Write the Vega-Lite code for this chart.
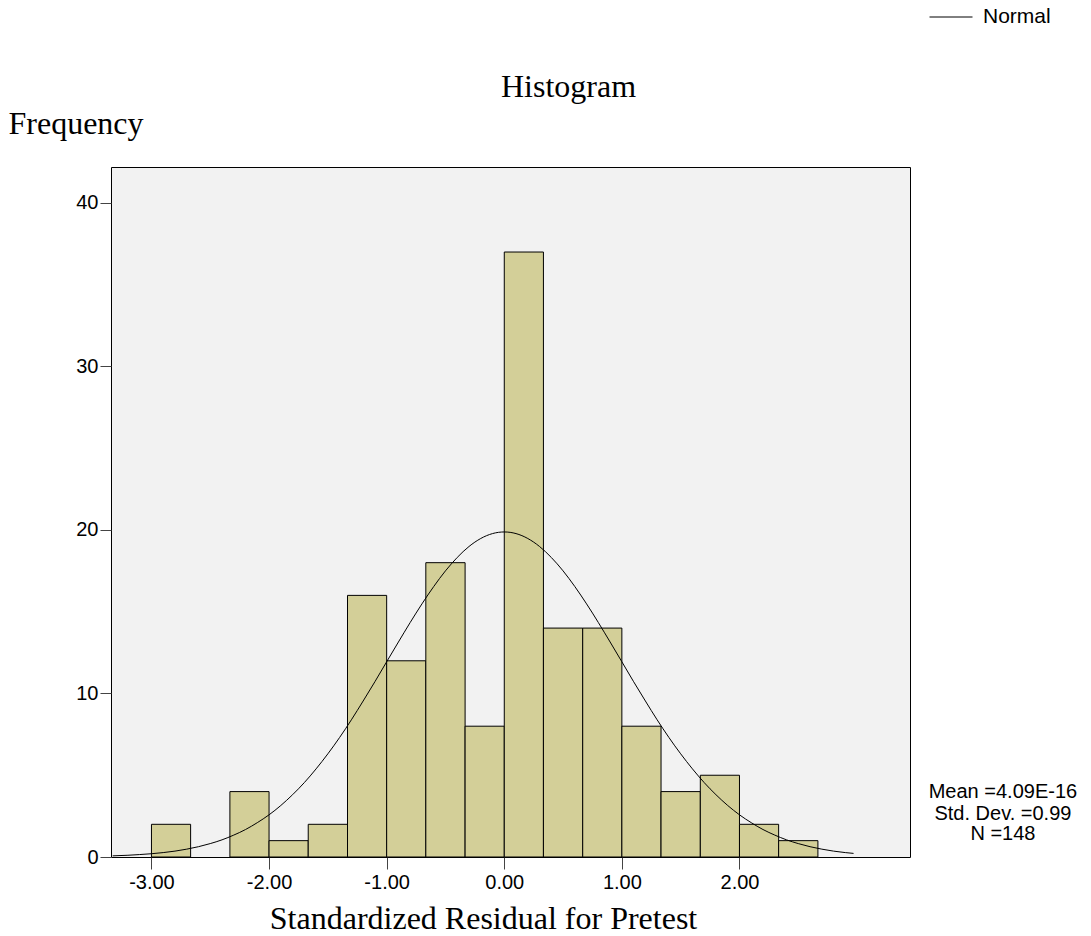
{
  "$schema": "https://vega.github.io/schema/vega-lite/v6.json",
  "autosize": "none",
  "width": 799,
  "height": 690,
  "padding": {"left": 111, "top": 167, "right": 181, "bottom": 79},
  "background": "white",
  "config": {
    "view": {"fill": "#F2F2F2", "stroke": "#000000", "strokeWidth": 1},
    "axis": {"labelFont": "Liberation Sans", "labelFontSize": 20, "labelColor": "#000000", "tickColor": "#444444", "domain": false, "grid": false, "titleFont": "Liberation Serif", "titleFontSize": 32, "titleFontWeight": "normal", "titleColor": "#000000"}
  },
  "title": {"text": "Histogram", "font": "Liberation Serif", "fontSize": 32, "fontWeight": "normal", "color": "#000000", "anchor": "middle", "dx": 58, "offset": 0, "baseline": "alphabetic", "dy": 134},
  "datasets": {
    "bins": [
      {"start": -3.0, "end": -2.667, "count": 2},
      {"start": -2.333, "end": -2.0, "count": 4},
      {"start": -2.0, "end": -1.667, "count": 1},
      {"start": -1.667, "end": -1.333, "count": 2},
      {"start": -1.333, "end": -1.0, "count": 16},
      {"start": -1.0, "end": -0.667, "count": 12},
      {"start": -0.667, "end": -0.333, "count": 18},
      {"start": -0.333, "end": 0.0, "count": 8},
      {"start": 0.0, "end": 0.333, "count": 37},
      {"start": 0.333, "end": 0.667, "count": 14},
      {"start": 0.667, "end": 1.0, "count": 14},
      {"start": 1.0, "end": 1.333, "count": 8},
      {"start": 1.333, "end": 1.667, "count": 4},
      {"start": 1.667, "end": 2.0, "count": 5},
      {"start": 2.0, "end": 2.333, "count": 2},
      {"start": 2.333, "end": 2.667, "count": 1}
    ],
    "curve": [
      {"x": -3.33, "y": 0.07}, {"x": -3.2, "y": 0.107}, {"x": -3.1, "y": 0.15}, {"x": -3.0, "y": 0.2},
      {"x": -2.9, "y": 0.27}, {"x": -2.8, "y": 0.36}, {"x": -2.7, "y": 0.48}, {"x": -2.6, "y": 0.63},
      {"x": -2.5, "y": 0.82}, {"x": -2.4, "y": 1.05}, {"x": -2.3, "y": 1.34}, {"x": -2.2, "y": 1.68},
      {"x": -2.1, "y": 2.1}, {"x": -2.0, "y": 2.58}, {"x": -1.9, "y": 3.15}, {"x": -1.8, "y": 3.81},
      {"x": -1.7, "y": 4.55}, {"x": -1.6, "y": 5.39}, {"x": -1.5, "y": 6.31}, {"x": -1.4, "y": 7.31},
      {"x": -1.3, "y": 8.39}, {"x": -1.2, "y": 9.54}, {"x": -1.1, "y": 10.72}, {"x": -1.0, "y": 11.94},
      {"x": -0.9, "y": 13.15}, {"x": -0.8, "y": 14.34}, {"x": -0.7, "y": 15.48}, {"x": -0.6, "y": 16.54},
      {"x": -0.5, "y": 17.5}, {"x": -0.4, "y": 18.32}, {"x": -0.3, "y": 18.99}, {"x": -0.2, "y": 19.48},
      {"x": -0.1, "y": 19.78}, {"x": 0.0, "y": 19.88}, {"x": 0.1, "y": 19.78}, {"x": 0.2, "y": 19.48},
      {"x": 0.3, "y": 18.99}, {"x": 0.4, "y": 18.32}, {"x": 0.5, "y": 17.5}, {"x": 0.6, "y": 16.54},
      {"x": 0.7, "y": 15.48}, {"x": 0.8, "y": 14.34}, {"x": 0.9, "y": 13.15}, {"x": 1.0, "y": 11.94},
      {"x": 1.1, "y": 10.72}, {"x": 1.2, "y": 9.54}, {"x": 1.3, "y": 8.39}, {"x": 1.4, "y": 7.31},
      {"x": 1.5, "y": 6.31}, {"x": 1.6, "y": 5.39}, {"x": 1.7, "y": 4.55}, {"x": 1.8, "y": 3.81},
      {"x": 1.9, "y": 3.15}, {"x": 2.0, "y": 2.58}, {"x": 2.1, "y": 2.1}, {"x": 2.2, "y": 1.68},
      {"x": 2.3, "y": 1.34}, {"x": 2.4, "y": 1.05}, {"x": 2.5, "y": 0.82}, {"x": 2.6, "y": 0.63},
      {"x": 2.7, "y": 0.48}, {"x": 2.8, "y": 0.36}, {"x": 2.9, "y": 0.27}, {"x": 2.97, "y": 0.22}
    ],
    "stats": [
      {"x": 4.24, "y": 3.6, "label": "Mean =4.09E-16"},
      {"x": 4.24, "y": 2.26, "label": "Std. Dev. =0.99"},
      {"x": 4.24, "y": 1.04, "label": "N =148"}
    ]
  },
  "layer": [
    {
      "data": {"name": "bins"},
      "mark": {"type": "rect", "fill": "#D3CF98", "stroke": "#000000", "strokeWidth": 1},
      "encoding": {
        "x": {"field": "start", "type": "quantitative", "scale": {"domain": [-3.344, 3.45], "nice": false, "zero": false},
              "axis": {"values": [-3, -2, -1, 0, 1, 2], "labelExpr": "(datum.value < 0 ? '-' : '') + format(abs(datum.value), '.2f')", "tickSize": 12, "labelPadding": 3, "title": "Standardized Residual for Pretest", "titleX": 372, "titleY": 71, "titleBaseline": "alphabetic", "titleAlign": "center"}},
        "x2": {"field": "end"},
        "y": {"field": "count", "type": "quantitative", "scale": {"domain": [0, 42.2], "nice": false},
              "axis": {"values": [0, 10, 20, 30, 40], "format": "d", "tickSize": 11, "labelPadding": 2, "title": "Frequency", "titleAngle": 0, "titleAlign": "left", "titleBaseline": "alphabetic", "titleX": -103, "titleY": -34}},
        "y2": {"datum": 0}
      }
    },
    {
      "data": {"name": "curve"},
      "mark": {"type": "line", "strokeWidth": 1, "interpolate": "monotone"},
      "encoding": {
        "x": {"field": "x", "type": "quantitative"},
        "y": {"field": "y", "type": "quantitative"},
        "color": {"datum": "Normal", "scale": {"range": ["#000000"]},
                  "legend": {"orient": "none", "legendX": 818, "legendY": -172, "title": null, "symbolType": "stroke", "symbolSize": 1849, "symbolStrokeWidth": 1, "symbolStrokeColor": "#000000", "labelFont": "Liberation Sans", "labelFontSize": 21, "labelColor": "#000000", "labelOffset": 10}}
      }
    },
    {
      "data": {"name": "stats"},
      "mark": {"type": "text", "font": "Liberation Sans", "fontSize": 20, "align": "center", "baseline": "alphabetic", "color": "#000000"},
      "encoding": {
        "x": {"field": "x", "type": "quantitative"},
        "y": {"field": "y", "type": "quantitative"},
        "text": {"field": "label"}
      }
    }
  ]
}
